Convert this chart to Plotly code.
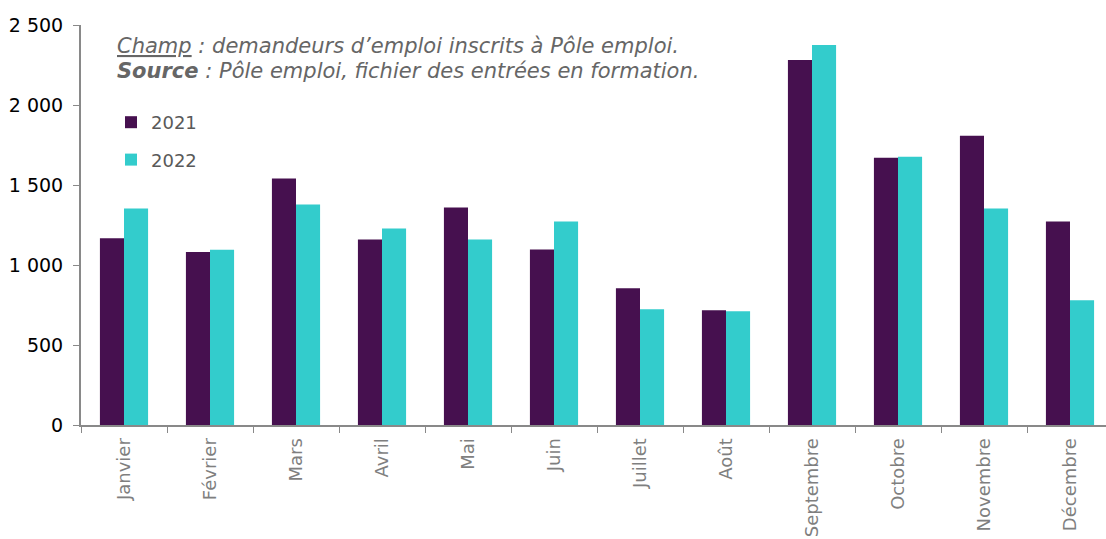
import plotly.graph_objects as go

months = ["Janvier", "Février", "Mars", "Avril", "Mai", "Juin", "Juillet",
          "Août", "Septembre", "Octobre", "Novembre", "Décembre"]
v2021 = [1167, 1082, 1540, 1159, 1359, 1097, 854, 717, 2282, 1671, 1808, 1272]
v2022 = [1353, 1095, 1378, 1228, 1160, 1272, 723, 711, 2375, 1677, 1353, 779]

line1 = "<i><u>Champ</u> : demandeurs d’emploi inscrits à Pôle emploi.</i>"
line2 = "<i><b>Source</b> : Pôle emploi, fichier des entrées en formation.</i>"

FONT = "Verdana, DejaVu Sans, sans-serif"

L, R, T, B = 81, 1, 25, 114
W, H = 1114, 539
PW, PH = W - L - R, H - T - B
X0, Y0 = L, T


def px(x):
    return (x - X0) / PW


def py(y):
    return 1 - (y - Y0) / PH


fig = go.Figure()
fig.add_trace(go.Bar(x=months, y=v2021, name="2021", marker_color="#46104F",
                     marker_line_width=0, legendgroup="a"))
fig.add_trace(go.Bar(x=months, y=v2022, name="2022", marker_color="#33CCCC",
                     marker_line_width=0, legendgroup="b"))

note_font = dict(family=FONT, size=21, color="#666666")
fig.update_layout(
    width=W, height=H,
    margin=dict(l=L, r=R, t=T, b=B, autoexpand=False),
    plot_bgcolor="white", paper_bgcolor="white",
    barmode="group", bargap=0.44, bargroupgap=0,
    separators=", ",
    font=dict(family=FONT, size=18, color="#000"),
    legend=dict(x=px(111), y=py(104),
                xanchor="left", yanchor="top",
                tracegroupgap=11, font=dict(size=18, color="#595959"),
                bgcolor="rgba(0,0,0,0)"),
    annotations=[
        dict(x=px(115), y=py(32), xref="paper", yref="paper", showarrow=False,
             text=line1, align="left", xanchor="left", yanchor="top",
             font=note_font),
        dict(x=px(115), y=py(57), xref="paper", yref="paper", showarrow=False,
             text=line2, align="left", xanchor="left", yanchor="top",
             font=note_font),
    ],
)

fig.update_xaxes(showline=True, linecolor="#898989", linewidth=2,
                 ticks="outside", tickson="boundaries", ticklen=6,
                 tickcolor="#898989", tickangle=-90, automargin=False,
                 ticklabelstandoff=4,
                 tickfont=dict(color="#7f7f7f", size=18))
fig.update_yaxes(range=[0, 2500], dtick=500, showgrid=False,
                 showline=True, linecolor="#898989", linewidth=2,
                 ticks="outside", ticklen=6, tickcolor="#898989",
                 ticklabelstandoff=6,
                 tickfont=dict(color="#000", size=19), tickformat=",d",
                 zeroline=False, automargin=False)

fig.write_html(
    "out.html",
    config={"displayModeBar": False},
    post_script=(
        "document.body.style.margin='0';"
        "document.body.style.overflow='hidden';"
        "document.documentElement.style.overflow='hidden';"
    ),
)
